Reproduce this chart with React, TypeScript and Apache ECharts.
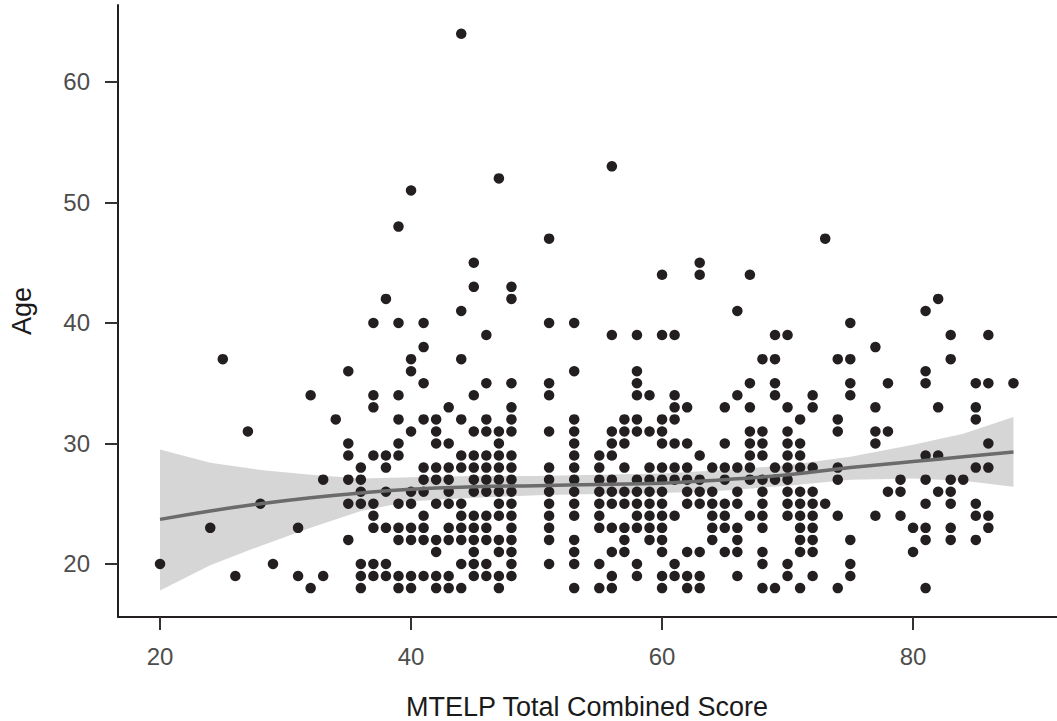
import React, { useEffect, useRef } from "react";
import * as echarts from "echarts";

// MTELP total combined score (x) columns and the ages observed at each score
const scoreColumns = [
  20, 24, 25, 26, 27, 28, 29, 31, 32, 33, 34, 35, 36, 37, 38, 39, 40, 41, 42, 43, 44, 45, 46, 47, 48,
  51, 53, 55, 56, 57, 58, 59, 60, 61, 62, 63, 64, 65, 66, 67, 68, 69, 70, 71, 72, 73, 74, 75, 77, 78,
  79, 80, 81, 82, 83, 84, 85, 86, 88,
];
const agesByScore = [
  [20],
  [23],
  [37],
  [19],
  [31],
  [25],
  [20],
  [23, 19],
  [34, 18],
  [27, 19],
  [32],
  [36, 30, 29, 27, 25, 22],
  [28, 27, 26, 25, 20, 19, 18],
  [40, 34, 33, 29, 25, 24, 23, 20, 19],
  [42, 29, 28, 26, 23, 20, 19],
  [48, 40, 34, 32, 30, 29, 25, 23, 22, 19, 18],
  [51, 37, 36, 31, 26, 25, 23, 22, 19, 18],
  [40, 38, 35, 32, 28, 27, 26, 24, 23, 22, 19],
  [32, 31, 30, 28, 27, 25, 22, 21, 19, 18],
  [33, 30, 28, 27, 26, 25, 23, 22, 19, 18],
  [64, 41, 37, 32, 29, 28, 25, 24, 23, 22, 20, 18],
  [45, 43, 34, 31, 29, 28, 27, 26, 24, 23, 22, 21, 20, 19],
  [39, 35, 32, 31, 29, 28, 27, 26, 24, 23, 22, 20, 19],
  [52, 31, 30, 29, 28, 27, 26, 25, 24, 22, 21, 19, 18],
  [43, 42, 35, 33, 32, 31, 29, 28, 27, 26, 25, 24, 23, 22, 21, 20, 19],
  [47, 40, 35, 34, 31, 28, 27, 26, 25, 24, 23, 22, 20],
  [40, 36, 32, 31, 30, 29, 28, 27, 26, 25, 24, 22, 21, 20, 18],
  [29, 28, 27, 26, 25, 24, 23, 20, 18],
  [53, 39, 31, 30, 29, 27, 26, 25, 23, 21, 19, 18],
  [32, 31, 30, 28, 26, 25, 23, 22, 21],
  [39, 36, 35, 34, 32, 31, 27, 26, 25, 24, 23, 20, 19],
  [34, 31, 28, 27, 26, 25, 24, 23, 22],
  [44, 39, 32, 31, 30, 28, 27, 26, 25, 24, 23, 22, 21, 19, 18],
  [39, 34, 33, 32, 30, 28, 27, 24, 20, 19],
  [33, 30, 28, 27, 26, 25, 21, 19, 18],
  [45, 44, 29, 27, 26, 25, 21, 19, 18],
  [28, 26, 25, 24, 23, 22],
  [33, 30, 28, 27, 25, 24, 23, 21],
  [41, 34, 28, 26, 25, 23, 22, 21, 19],
  [44, 35, 33, 31, 30, 29, 28, 27, 24],
  [37, 31, 30, 29, 27, 26, 25, 24, 23, 21, 20, 18],
  [39, 37, 35, 34, 28, 27, 18],
  [39, 33, 31, 30, 29, 28, 27, 26, 25, 24, 20, 19],
  [32, 30, 29, 28, 26, 25, 24, 23, 22, 21, 18],
  [34, 33, 28, 26, 25, 24, 23, 22, 21, 19],
  [47, 25],
  [37, 32, 31, 28, 27, 24, 18],
  [40, 37, 35, 34, 22, 20, 19],
  [38, 33, 31, 30, 24],
  [35, 31, 26],
  [27, 26, 24],
  [23, 21],
  [41, 36, 35, 29, 27, 25, 23, 22, 18],
  [42, 33, 29, 26],
  [39, 37, 27, 26, 25, 23, 22],
  [27],
  [35, 33, 32, 28, 25, 24, 22],
  [39, 35, 30, 28, 24, 23],
  [35],
];

// Smoothed fit and its confidence band
const fitScores = [20, 24, 28, 32, 36, 40, 45, 50, 55, 60, 65, 70, 75, 80, 84, 88];
const fitAges = [23.7, 24.4, 25.0, 25.5, 25.9, 26.2, 26.4, 26.5, 26.6, 26.7, 27.0, 27.4, 28.0, 28.5, 28.9, 29.3];
const fitUpper = [29.5, 28.4, 27.8, 27.4, 27.1, 27.2, 27.3, 27.3, 27.4, 27.5, 27.8, 28.2, 28.9, 29.9, 30.8, 32.2];
const fitLower = [17.8, 19.9, 21.5, 23.0, 24.4, 25.2, 25.5, 25.7, 25.8, 25.9, 26.1, 26.5, 27.0, 27.1, 26.9, 26.4];

const xTicks = [20, 40, 60, 80];
const yTicks = [20, 30, 40, 50, 60];

const FONT = "Liberation Sans, Arial, Helvetica, sans-serif";

export default function App() {
  const ref = useRef<HTMLDivElement>(null);

  useEffect(() => {
    if (!ref.current) return;
    const chart = echarts.init(ref.current, undefined, { renderer: "svg" });

    const points: number[][] = [];
    scoreColumns.forEach((s, i) => {
      agesByScore[i].forEach((a) => points.push([s, a]));
    });
    const fitLine = fitScores.map((s, i) => [s, fitAges[i]]);

    const axisCommon = {
      type: "value" as const,
      splitLine: { show: false },
      axisLine: { show: true, onZero: false, lineStyle: { color: "#231f20", width: 2 } },
    };

    chart.setOption({
      animation: false,
      backgroundColor: "#ffffff",
      grid: { left: 118, right: 0, top: 5, bottom: 104, containLabel: false },
      xAxis: {
        ...axisCommon,
        min: 16.65,
        max: 91.47,
        axisTick: { show: true, length: 13, customValues: xTicks, lineStyle: { color: "#333333", width: 2 } },
        axisLabel: { customValues: xTicks, fontSize: 24, color: "#4d4d4d", margin: 27, fontFamily: FONT },
      },
      yAxis: {
        ...axisCommon,
        min: 15.6,
        max: 66.39,
        axisTick: { show: true, length: 13, customValues: yTicks, lineStyle: { color: "#333333", width: 2 } },
        axisLabel: { customValues: yTicks, fontSize: 24, color: "#4d4d4d", margin: 28, fontFamily: FONT },
      },
      graphic: [
        {
          type: "text",
          x: 587,
          y: 707,
          style: {
            text: "MTELP Total Combined Score",
            fontSize: 27,
            lineHeight: 26,
            fontFamily: FONT,
            fill: "#1a1a1a",
            align: "center",
            verticalAlign: "middle",
          },
        },
        {
          type: "text",
          x: 22,
          y: 311,
          rotation: Math.PI / 2,
          style: {
            text: "Age",
            fontSize: 27,
            fontFamily: FONT,
            fill: "#1a1a1a",
            align: "center",
            verticalAlign: "middle",
          },
        },
      ],
      series: [
        {
          type: "scatter",
          data: points,
          symbol: "circle",
          symbolSize: 10.5,
          itemStyle: { color: "#231f20", opacity: 1 },
          silent: true,
        },
        {
          type: "custom",
          silent: true,
          data: [[fitScores[0], fitAges[0]]],
          renderItem: (_params: any, api: any) => {
            const pts: number[][] = [];
            for (let i = 0; i < fitScores.length; i++) pts.push(api.coord([fitScores[i], fitUpper[i]]));
            for (let i = fitScores.length - 1; i >= 0; i--) pts.push(api.coord([fitScores[i], fitLower[i]]));
            return {
              type: "polygon",
              shape: { points: pts },
              style: { fill: "rgba(153,153,153,0.4)" },
            };
          },
        },
        {
          type: "line",
          data: fitLine,
          smooth: true,
          symbol: "none",
          silent: true,
          lineStyle: { color: "#6b6b6b", width: 3.5 },
        },
      ],
    });

    return () => chart.dispose();
  }, []);

  return (
    <div
      ref={ref}
      style={{ position: "absolute", left: 0, top: 0, width: 1057, height: 721 }}
    />
  );
}
